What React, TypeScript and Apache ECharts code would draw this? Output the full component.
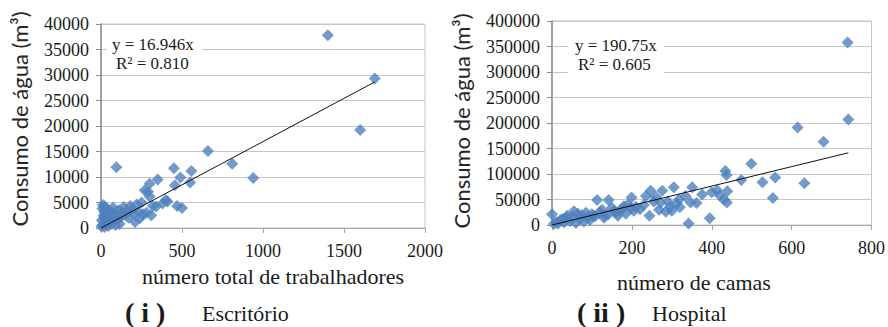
import React, { useEffect, useRef } from "react";
import * as echarts from "echarts";

// (i) Escritório — número total de trabalhadores vs consumo de água (m³)
const officeWorkers = [3,5,8,10,12,15,18,20,22,25,28,30,35,38,40,45,50,55,60,65,70,75,80,85,90,95,100,105,110,115,120,130,140,150,160,170,180,190,200,210,220,230,240,250,260,270,280,290,300,300,310,320,340,350,380,400,410,450,456,470,490,500,550,558,660,810,940,1400,1600,1690];
const officeWater = [300,1500,3800,600,4500,2400,900,3200,200,4200,1800,700,2800,3600,1200,400,2200,3400,1600,900,2700,4000,1300,3000,600,11900,2500,1700,3500,800,2100,3100,4100,2600,3300,2000,4300,3700,2900,1200,4600,3200,1900,5000,2700,7400,3000,7100,8700,6200,2500,4300,4200,9500,4800,5500,5200,11700,8400,4300,9900,3900,8900,11200,15100,12600,9800,37800,19200,29300];
const officeSlope = 16.946;
const officeR2 = "0.810";

// (ii) Hospital — número de camas vs consumo de água (m³)
const hospitalBeds = [0,5,10,15,20,25,30,35,38,45,50,55,60,65,70,75,80,85,90,95,100,105,108,113,120,125,130,132,140,142,150,155,160,165,170,175,180,185,190,197,199,205,210,220,230,235,244,247,255,260,268,272,276,285,290,296,300,305,312,318,320,334,342,347,351,362,376,395,400,413,420,430,434,437,438,439,474,499,527,553,559,615,632,680,740,742];
const hospitalWater = [21000,2000,6000,3000,9000,12000,5000,14000,18000,8000,16000,27000,4000,22000,12000,19000,7000,24000,15000,10000,21000,18000,17000,49000,25000,30000,14000,19000,20000,49000,34000,27000,25000,18000,28000,31000,37000,22000,40000,33000,54000,28000,36000,31000,39000,57000,18000,67000,46000,55000,30000,44000,67000,26000,46000,36000,28000,74000,42000,50000,35000,57000,3000,44000,74000,43000,60000,13000,64000,68000,58000,50000,106000,98000,44000,66000,88000,120000,84000,53000,93000,191000,82000,163000,358000,207000];
const hospitalSlope = 190.75;
const hospitalR2 = "0.605";

const officeXTicks = { min: 0, max: 2000, interval: 500 };
const officeYTicks = { min: 0, max: 40000, interval: 5000 };
const hospitalXTicks = { min: 0, max: 800, interval: 200 };
const hospitalYTicks = { min: 0, max: 400000, interval: 50000 };

const yTitle = "Consumo de água (m³)";
const officeXTitle = "número total de trabalhadores";
const hospitalXTitle = "número de camas";

const SERIF = "Liberation Serif";
const SANS = "Lato";

function zip(xs: number[], ys: number[]) {
  return xs.map((x, i) => [x, ys[i]]);
}

const plain = (v: number) => String(v);

function xAxisCfg(gridIndex: number, t: { min: number; max: number; interval: number }) {
  return {
    type: "value",
    gridIndex,
    min: t.min,
    max: t.max,
    interval: t.interval,
    axisLine: { show: true, lineStyle: { color: "#a6a6a6", width: 1 } },
    axisTick: { show: true, length: 5, lineStyle: { color: "#a6a6a6" } },
    axisLabel: { fontFamily: SERIF, fontSize: 18, color: "#1a1a1a", margin: 14, formatter: plain },
    splitLine: { show: false },
  };
}

function yAxisCfg(gridIndex: number, t: { min: number; max: number; interval: number }) {
  return {
    type: "value",
    gridIndex,
    min: t.min,
    max: t.max,
    interval: t.interval,
    axisLine: { show: true, lineStyle: { color: "#8c8c8c", width: 1.5 } },
    axisTick: { show: true, length: 5, lineStyle: { color: "#8c8c8c" } },
    axisLabel: { fontFamily: SERIF, fontSize: 18, color: "#1a1a1a", margin: 12, formatter: plain },
    splitLine: { show: true, lineStyle: { color: "#c6c6c6", width: 1.2 } },
  };
}

export default function App() {
  const ref = useRef<HTMLDivElement>(null);
  useEffect(() => {
    if (!ref.current) return;
    const chart = echarts.init(ref.current, null, { renderer: "svg" });
    const officeMaxX = Math.max(...officeWorkers);
    const hospitalMaxX = Math.max(...hospitalBeds);
    const text = (x: number, y: number, t: string, size: number, extra: any = {}) => ({
      type: "text",
      x,
      y,
      z: 100,
      style: {
        text: t,
        fontFamily: SERIF,
        fontSize: size,
        fill: "#1a1a1a",
        textAlign: "left",
        textVerticalAlign: "middle",
        ...extra,
      },
    });
    const option: any = {
      animation: false,
      backgroundColor: "#ffffff",
      grid: [
        { left: 101, top: 24, width: 324, height: 204, show: true, borderColor: "#c6c6c6", borderWidth: 1 },
        { left: 552, top: 21, width: 323, height: 204, show: true, borderColor: "#c6c6c6", borderWidth: 1 },
      ],
      xAxis: [xAxisCfg(0, officeXTicks), xAxisCfg(1, hospitalXTicks)],
      yAxis: [yAxisCfg(0, officeYTicks), yAxisCfg(1, hospitalYTicks)],
      series: [
        {
          type: "scatter",
          xAxisIndex: 0,
          yAxisIndex: 0,
          symbol: "diamond",
          symbolSize: 12,
          itemStyle: { color: "#4f81bd" },
          data: zip(officeWorkers, officeWater),
          z: 2,
        },
        {
          type: "line",
          xAxisIndex: 0,
          yAxisIndex: 0,
          symbol: "none",
          lineStyle: { color: "#111", width: 1 },
          data: [
            [0, 0],
            [officeMaxX, officeSlope * officeMaxX],
          ],
          z: 3,
        },
        {
          type: "scatter",
          xAxisIndex: 1,
          yAxisIndex: 1,
          symbol: "diamond",
          symbolSize: 12,
          itemStyle: { color: "#4f81bd" },
          data: zip(hospitalBeds, hospitalWater),
          z: 2,
        },
        {
          type: "line",
          xAxisIndex: 1,
          yAxisIndex: 1,
          symbol: "none",
          lineStyle: { color: "#111", width: 1 },
          data: [
            [0, 0],
            [hospitalMaxX, hospitalSlope * hospitalMaxX],
          ],
          z: 3,
        },
      ],
      graphic: [
        { type: "rect", shape: { x: 107, y: 34, width: 95, height: 38 }, style: { fill: "#fff" }, z: 90 },
        { type: "rect", shape: { x: 568, y: 34, width: 96, height: 42 }, style: { fill: "#fff" }, z: 90 },
        text(112, 44, `y = ${officeSlope}x`, 17),
        text(116, 63, `R² = ${officeR2}`, 17),
        text(575, 45, `y = ${hospitalSlope}x`, 17),
        text(578, 64, `R² = ${hospitalR2}`, 17),
        {
          type: "text",
          x: 19,
          y: 119,
          rotation: Math.PI / 2,
          z: 100,
          style: { text: yTitle, fontFamily: SANS, fontSize: 22, fill: "#262626", textAlign: "center", textVerticalAlign: "middle" },
        },
        {
          type: "text",
          x: 461,
          y: 121,
          rotation: Math.PI / 2,
          z: 100,
          style: { text: yTitle, fontFamily: SANS, fontSize: 22, fill: "#262626", textAlign: "center", textVerticalAlign: "middle" },
        },
        text(142, 276, officeXTitle, 22),
        text(617, 282, hospitalXTitle, 22),
        text(125, 312, "( i )", 28, { fontWeight: "bold" }),
        text(202, 313, "Escritório", 22),
        text(577, 312, "( ii )", 28, { fontWeight: "bold" }),
        text(652, 313, "Hospital", 22),
      ],
    };
    chart.setOption(option);
    return () => chart.dispose();
  }, []);
  return (
    <div
      ref={ref}
      style={{ position: "fixed", left: 0, top: 0, width: 888, height: 327, background: "#fff" }}
    />
  );
}
